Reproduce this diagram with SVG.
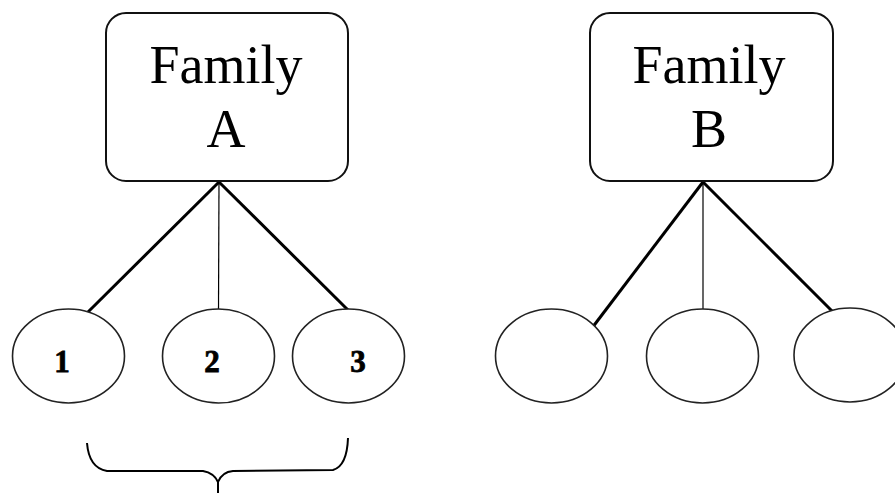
<svg xmlns="http://www.w3.org/2000/svg" width="895" height="493" viewBox="0 0 895 493">
<style>
.box{fill:#fff;stroke:#111;stroke-width:2}
.title{font-family:"Liberation Serif","Times New Roman",serif;font-size:54px;fill:#000;text-anchor:middle}
.child{fill:#fff;stroke:#222;stroke-width:1.6}
.num{font-family:"Liberation Serif","Times New Roman",serif;font-size:31px;font-weight:bold;fill:#000;stroke:#000;stroke-width:0.8;text-anchor:middle}
.thick{stroke:#000;stroke-width:3;fill:none}
.thin{stroke:#000;stroke-width:1.2;fill:none}
.brace{stroke:#000;stroke-width:2;fill:none}
</style>
<rect width="895" height="493" fill="#fff"/>
<g id="connectors">
<line class="thick" x1="219" y1="182" x2="88" y2="312"/>
<line class="thin" x1="219" y1="182" x2="218.5" y2="309"/>
<line class="thick" x1="219" y1="182" x2="348" y2="310"/>
<line class="thick" x1="703" y1="182" x2="592" y2="328"/>
<line class="thin" x1="703" y1="182" x2="703" y2="309"/>
<line class="thick" x1="703" y1="182" x2="833" y2="312"/>
</g>
<g id="familyA">
<rect class="box" x="106" y="13" width="242" height="168" rx="20"/>
<text class="title" x="226" y="83">Family</text>
<text class="title" x="226" y="147">A</text>
</g>
<g id="familyB">
<rect class="box" x="590" y="13" width="243" height="168" rx="20"/>
<text class="title" x="709" y="83">Family</text>
<text class="title" x="709" y="147">B</text>
</g>
<g id="a1">
<ellipse class="child" cx="68.5" cy="356" rx="56" ry="47"/>
<text class="num" x="62" y="372">1</text>
</g>
<g id="a2">
<ellipse class="child" cx="218.5" cy="356" rx="56" ry="47"/>
<text class="num" x="212" y="372">2</text>
</g>
<g id="a3">
<ellipse class="child" cx="348.5" cy="356" rx="56" ry="47"/>
<text class="num" x="358" y="372">3</text>
</g>
<g id="b1">
<ellipse class="child" cx="551.5" cy="356" rx="56" ry="47"/>
</g>
<g id="b2">
<ellipse class="child" cx="702.5" cy="356" rx="56" ry="47"/>
</g>
<g id="b3">
<ellipse class="child" cx="850" cy="355" rx="56" ry="47"/>
</g>
<g id="brace">
<path class="brace" d="M87,443 Q89,468 107,471 L203,471 Q214,473 218,482 L218,493 M218,482 Q222,472 233,471 L333,470 Q347,466 348,438"/>
</g>
</svg>
